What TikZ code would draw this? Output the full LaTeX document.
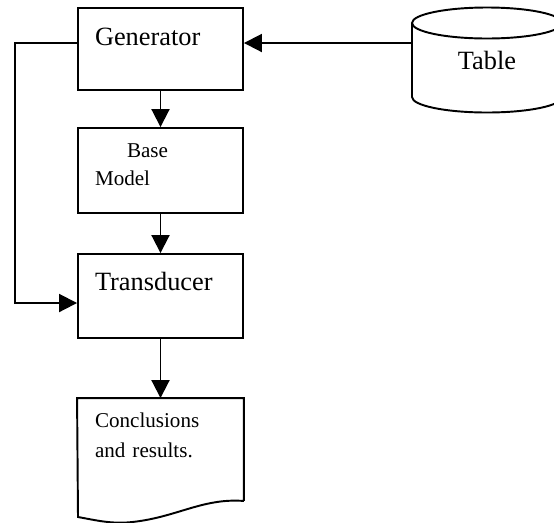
\documentclass[tikz,border=0pt]{standalone}
\usepackage{fontspec}
\setmainfont{Liberation Serif}
\usetikzlibrary{arrows.meta,positioning}
\tikzset{
  ar/.style={-{Triangle[length=3.6mm,width=3.6mm]},line width=1.1pt},
  ln/.style={line width=1.1pt},
  box/.style={draw,line width=1.1pt,align=left,text width=2.62cm,inner xsep=0.34cm,inner ysep=0pt,font=\fontsize{15}{18}\selectfont},
  small/.style={font=\fontsize{12}{16}\selectfont}
}
\begin{document}
\begin{tikzpicture}[x=0.02cm,y=-0.02cm]
\useasboundingbox (0,0) rectangle (554,522);
\clip (0,0) rectangle (554,522);
\node[box,text height=0.74cm,text depth=0.9cm] (gen) at (160.5,49) {Generator};
\node[box,small,text height=0.58cm,text depth=1.12cm] (base) at (160.5,170.5) {\hspace{0.64cm}Base\\Model};
\node[box,text height=0.72cm,text depth=0.96cm] (trans) at (160.5,296) {Transducer};
\node[box,small,draw=none,text height=0.56cm,text depth=1.46cm,font=\fontsize{12}{17.6}\selectfont] (doc) at (160.5,449.5) {Conclusions\\and results.};
\draw[ln] (doc.south east) -- (doc.north east) -- (doc.north west) -- (78,517)
  .. controls (100,521) and (115,525) .. (140,521)
  .. controls (180,515) and (205,498) .. (doc.south east);
% table store
\draw[ln] (412,23) -- (412,97) arc[start angle=180,end angle=360,x radius=75,y radius=-15.5] -- (562,23);
\draw[ln] (487,23) ellipse [x radius=75,y radius=15.5];
\node[font=\fontsize{15}{18}\selectfont] (tbl) at (487,60) {Table};
\coordinate (tin) at (412,43);
\coordinate (loop) at (15,303);
\draw[ar] (tin) -- (tin -| gen.east);
\draw[ar] (gen) -- (base);
\draw[ar] (base) -- (trans);
\draw[ar] (trans) -- (doc);
\draw[ar] (tin -| gen.west) -| (loop) -- (loop -| trans.west);
\end{tikzpicture}
\end{document}
